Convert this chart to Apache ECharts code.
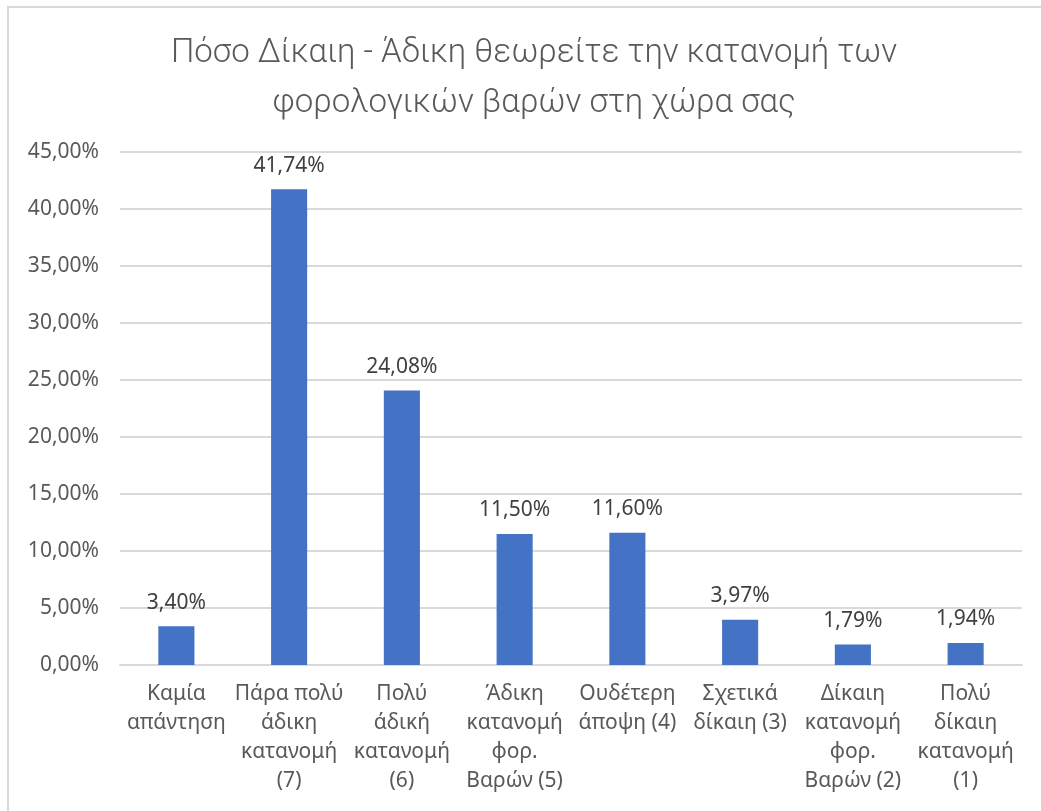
<!DOCTYPE html>
<html>
<head>
<meta charset="utf-8">
<script src="https://cdn.jsdelivr.net/npm/echarts@6/dist/echarts.min.js"></script>
<style>
  html, body { margin: 0; padding: 0; background: #fff; }
  #chart { width: 1041px; height: 811px; }
</style>
</head>
<body>
<div id="chart"></div>
<script>
// Survey answers: perceived fairness of the tax burden distribution
const categories = [
  'Καμία\nαπάντηση',
  'Πάρα πολύ\nάδικη\nκατανομή\n(7)',
  'Πολύ\nάδική\nκατανομή\n(6)',
  'Άδικη\nκατανομή\nφορ.\nΒαρών (5)',
  'Ουδέτερη\nάποψη (4)',
  'Σχετικά\nδίκαιη (3)',
  'Δίκαιη\nκατανομή\nφορ.\nΒαρών (2)',
  'Πολύ\nδίκαιη\nκατανομή\n(1)'
];
const shares = [3.40, 41.74, 24.08, 11.50, 11.60, 3.97, 1.79, 1.94];
const titleLines = ['Πόσο Δίκαιη - Άδικη θεωρείτε την κατανομή των', 'φορολογικών βαρών στη χώρα σας'];

const pct = v => v.toFixed(2).replace('.', ',') + '%';
const font = '"Noto Sans", "Open Sans", sans-serif';

const chart = echarts.init(document.getElementById('chart'), null, { renderer: 'canvas' });
chart.setOption({
  backgroundColor: '#ffffff',
  animation: false,
  title: {
    text: titleLines.join('\n'),
    left: 529,
    top: 24,
    textAlign: 'center',
    textStyle: {
      fontFamily: 'Roboto, "Noto Sans", sans-serif',
      fontWeight: 300,
      fontSize: 33,
      lineHeight: 50,
      color: '#595959'
    }
  },
  graphic: [{
    type: 'rect',
    shape: { x: 8, y: 7, width: 1200, height: 1000 },
    style: { fill: 'none', stroke: '#d9d9d9', lineWidth: 2 },
    silent: true
  }],
  grid: { left: 120, right: 19, top: 152, bottom: 146 },
  xAxis: {
    type: 'category',
    data: categories,
    axisLine: { lineStyle: { color: '#d9d9d9', width: 2 } },
    axisTick: { show: false },
    axisLabel: {
      interval: 0,
      margin: 15,
      fontFamily: font,
      fontSize: 21,
      lineHeight: 29,
      color: '#595959'
    }
  },
  yAxis: {
    type: 'value',
    min: 0,
    max: 45,
    interval: 5,
    axisLine: { show: false },
    axisTick: { show: false },
    splitLine: { lineStyle: { color: '#d9d9d9', width: 2 } },
    axisLabel: {
      margin: 21,
      fontFamily: font,
      fontSize: 21,
      color: '#595959',
      formatter: v => pct(v)
    }
  },
  series: [{
    type: 'bar',
    data: shares,
    barWidth: '32%',
    itemStyle: { color: '#4472c4' },
    label: {
      show: true,
      position: 'top',
      distance: 13,
      fontFamily: font,
      fontSize: 21,
      color: '#404040',
      formatter: p => pct(p.value)
    }
  }]
});
</script>
</body>
</html>
